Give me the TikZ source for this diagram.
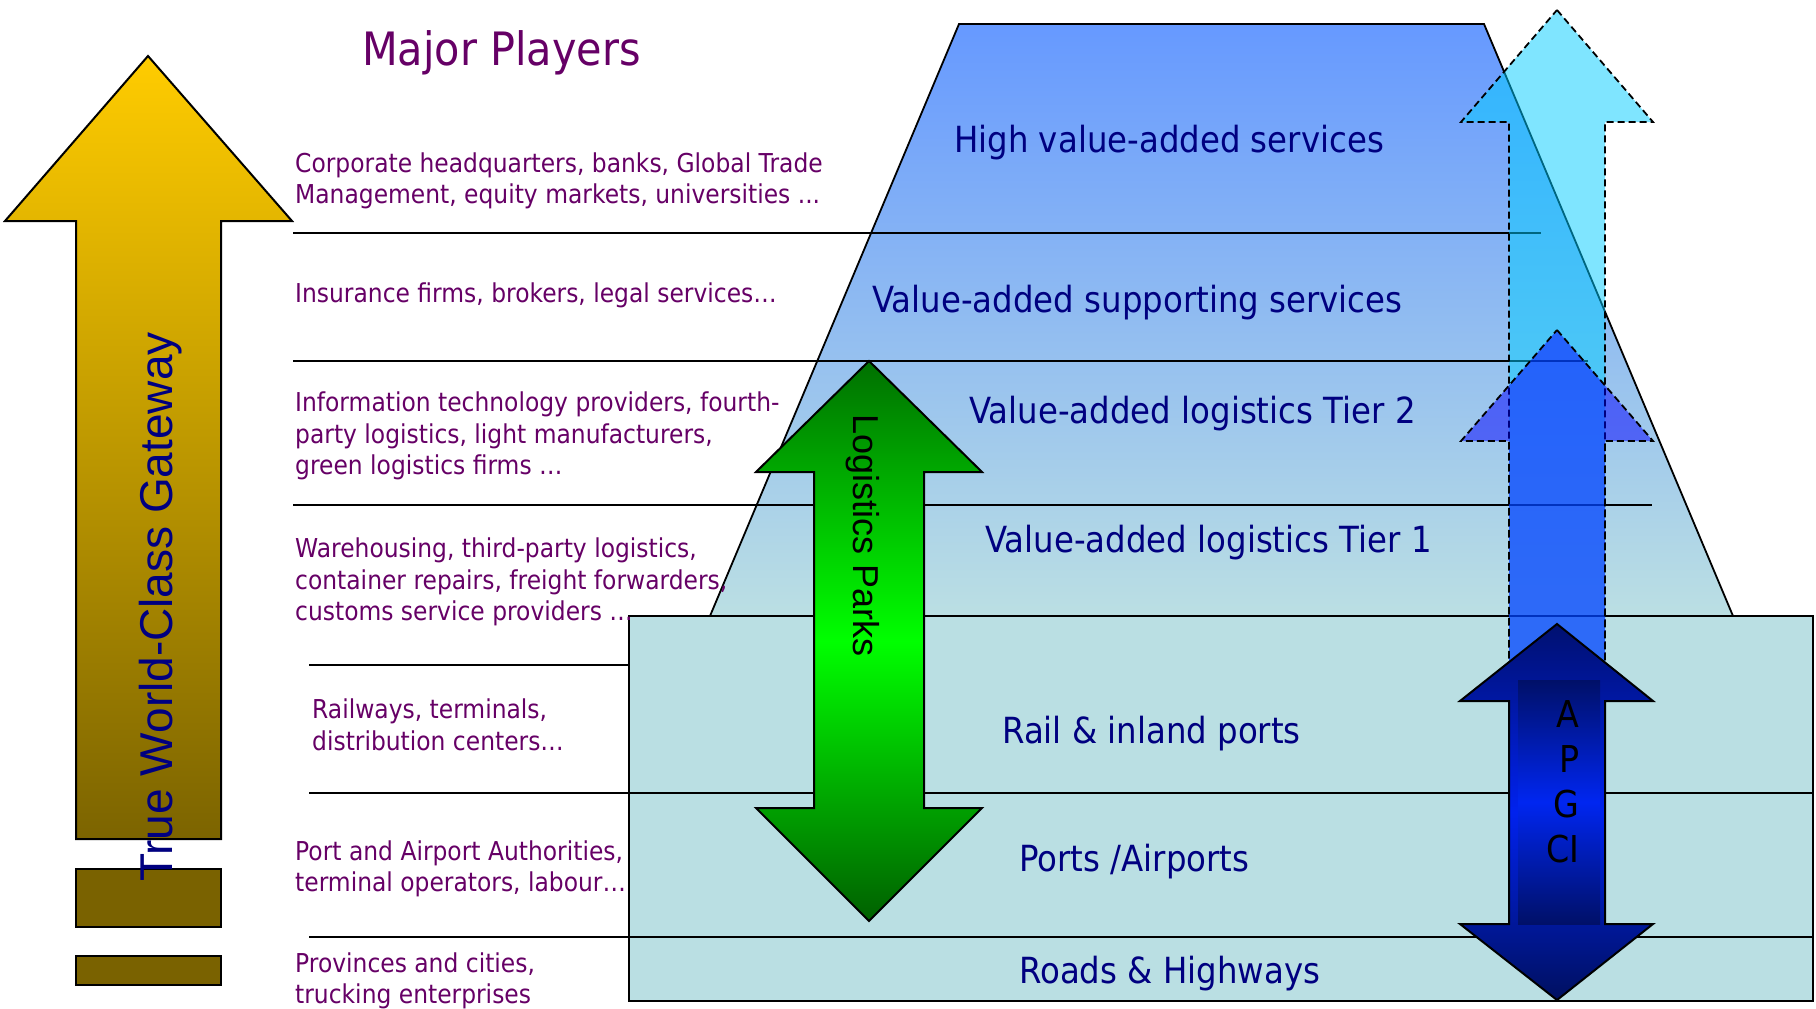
\documentclass[tikz,border=0pt]{standalone}
\usepackage{xcolor}
\usepackage{tikz}
\usepackage{fontspec}
\setmainfont{DejaVu Sans}[FakeStretch=0.9]
\newfontfamily\arialfont{Liberation Sans}

\begin{document}
\begin{tikzpicture}[x=1pt,y=-1pt,
  player/.style={anchor=west, inner sep=0pt, align=left, text={rgb,255:red,102;green,0;blue,102}, font=\fontsize{26}{31.5}\selectfont},
  tier/.style={anchor=base west, inner sep=0pt, text={rgb,255:red,0;green,0;blue,128}, font=\fontsize{36}{43}\selectfont},
  rule/.style={line width=2pt},
  outline/.style={draw=black, line width=2pt},
  dashbox/.style={draw=black, line width=1.8pt, dash pattern=on 7pt off 4pt, fill opacity=0.5}]
\useasboundingbox (0,0) rectangle (1816,1009);

\path[outline, line width=1.8pt, top color={rgb,255:red,102;green,153;blue,255}, bottom color={rgb,255:red,187;green,223;blue,227}] (959,24) -- (1484,24) -- (1733,616) -- (710,616) -- cycle;
\draw[rule] (293,233) -- (1541,233);
\draw[rule] (293,361) -- (1588,361);
\draw[rule] (293,505) -- (1652,505);
\path[outline, fill={rgb,255:red,186;green,223;blue,227}] (629,616) rectangle (1813,1001);
\draw[rule] (309,665) -- (629,665);
\draw[rule] (309,793) -- (1813,793);
\draw[rule] (309,937) -- (1813,937);

\node (major) [anchor=base west, inner sep=0pt, text={rgb,255:red,102;green,0;blue,102}, font=\fontsize{46}{55}\selectfont] at (362,65) {Major Players};
\node (hq) [player] at (295,181) {Corporate headquarters, banks, Global Trade\\Management, equity markets, universities ...};
\node (insurance) [player] at (295,295) {Insurance firms, brokers, legal services…};
\node (it) [player] at (295,436) {Information technology providers, fourth-\\party logistics, light manufacturers,\\green logistics firms …};
\node (warehousing) [player] at (295,582) {Warehousing, third-party logistics,\\container repairs, freight forwarders,\\customs service providers …};
\node (railways) [player] at (312,725) {Railways, terminals,\\distribution centers…};
\node (authorities) [player] at (295,869) {Port and Airport Authorities,\\terminal operators, labour…};
\node (provinces) [player] at (295,981) {Provinces and cities,\\trucking enterprises};

\node (high) [tier] at (954,152) {High value-added services};
\node (supporting) [tier] at (872,312) {Value-added supporting services};
\node (tiertwo) [tier] at (969,423) {Value-added logistics Tier 2};
\node (tierone) [tier] at (985,552) {Value-added logistics Tier 1};
\node (rail) [tier] at (1002,743) {Rail \& inland ports};
\node (ports) [tier] at (1019,871) {Ports /Airports};
\node (roads) [tier] at (1019,983) {Roads \& Highways};

\path[outline, top color={rgb,255:red,255;green,204;blue,0}, bottom color={rgb,255:red,124;green,100;blue,0}] (148,56) -- (292,221) -- (221,221) -- (221,839) -- (76,839) -- (76,221) -- (5,221) -- cycle;
\path[outline, fill={rgb,255:red,122;green,98;blue,0}] (76,869) rectangle (221,927);
\path[outline, fill={rgb,255:red,122;green,98;blue,0}] (76,956) rectangle (221,985);
\node (gateway) [rotate=90, anchor=base west, inner sep=0pt, text={rgb,255:red,0;green,0;blue,128}, font=\arialfont\fontsize{46}{55}\selectfont] at (172,882) {True World-Class Gateway};

\path[outline, top color={rgb,255:red,0;green,112;blue,0}, bottom color={rgb,255:red,0;green,96;blue,0}, middle color={rgb,255:red,0;green,255;blue,0}] (869,361) -- (982,472) -- (924,472) -- (924,808) -- (982,808) -- (869,921) -- (756,808) -- (814,808) -- (814,472) -- (756,472) -- cycle;
\node (parks) [rotate=-90, anchor=base west, inner sep=0pt, font=\arialfont\fontsize{36}{43}\selectfont] at (853,414) {Logistics Parks};

\path[dashbox, fill={rgb,255:red,0;green,204;blue,255}] (1557,10) -- (1653,122) -- (1605,122) -- (1605,690) -- (1509,690) -- (1509,122) -- (1461,122) -- cycle;
\path[dashbox, fill={rgb,255:red,0;green,0;blue,255}] (1557,330) -- (1653,441) -- (1605,441) -- (1605,690) -- (1509,690) -- (1509,441) -- (1461,441) -- cycle;

\path[outline, top color={rgb,255:red,0;green,16;blue,112}, bottom color={rgb,255:red,0;green,16;blue,96}, middle color={rgb,255:red,0;green,34;blue,238}] (1557,624) -- (1653,701) -- (1605,701) -- (1605,924) -- (1653,924) -- (1557,1000) -- (1460,924) -- (1509,924) -- (1509,701) -- (1460,701) -- cycle;
\path[top color={rgb,255:red,0;green,16;blue,104}, bottom color={rgb,255:red,0;green,16;blue,104}, middle color={rgb,255:red,0;green,38;blue,240}] (1518,680) rectangle (1600,924);
\node (apgci) [align=right, inner sep=0pt, font=\fontsize{37}{45}\selectfont] at (1563,782) {A\\P\\G\\CI};
\end{tikzpicture}
\end{document}
